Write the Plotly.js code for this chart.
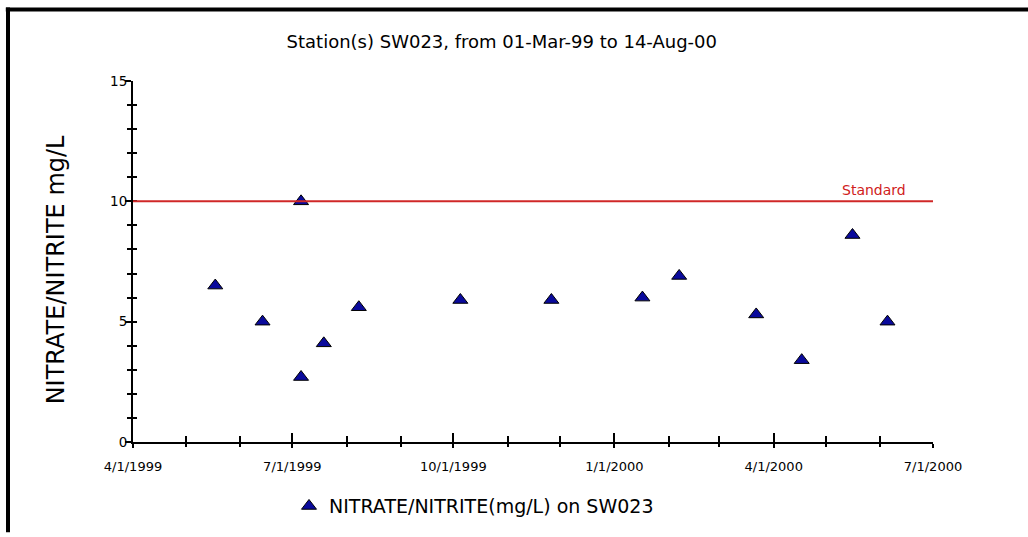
<!DOCTYPE html>
<html>
<head>
<meta charset="utf-8">
<script src="https://cdn.plot.ly/plotly-3.0.1.min.js"></script>
<style>
html,body{margin:0;padding:0;background:#fff;}
#chart{width:1028px;height:537px;}
</style>
</head>
<body>
<div id="chart"></div>
<script>
// ---- data ----
const sampleDates = ['1999-05-18','1999-06-14','1999-07-06','1999-07-06','1999-07-19','1999-08-08',
  '1999-10-05','1999-11-26','2000-01-17','2000-02-07','2000-03-22','2000-04-17','2000-05-16','2000-06-05'];
const nitrateValues = [6.5, 5.0, 10.0, 2.7, 4.1, 5.6, 5.9, 5.9, 6.0, 6.9, 5.3, 3.4, 8.6, 5.0];
const standardValue = 10;
const standardLabel = 'Standard';
const seriesName = 'NITRATE/NITRITE(mg/L) on SW023';
const chartTitle = 'Station(s) SW023, from 01-Mar-99 to 14-Aug-00';
const yTitle = 'NITRATE/NITRITE mg/L';
const xTickVals = ['1999-04-01','1999-07-01','1999-10-01','2000-01-01','2000-04-01','2000-07-01'];
const xTickText = ['4/1/1999','7/1/1999','10/1/1999','1/1/2000','4/1/2000','7/1/2000'];
const yTickVals = [0, 5, 10, 15];
const xRange = ['1999-04-01','2000-07-01'];
const yRange = [0, 15];

const FONT = 'DejaVu Sans, Verdana, sans-serif';

const traces = [
  {
    type: 'scatter', mode: 'markers', name: seriesName,
    x: sampleDates, y: nitrateValues,
    marker: {symbol: 'triangle-up', size: 13, color: '#0a0a9c', line: {color: '#000', width: 1}},
    hoverinfo: 'x+y'
  },
  { // carrier for the overlay axes (inner half of crossing ticks)
    type: 'scatter', mode: 'markers', x: [], y: [], xaxis: 'x2', yaxis: 'y2',
    showlegend: false, hoverinfo: 'skip'
  }
];

const xMinor = (side, len) => ({ticks: side, ticklen: len, tickwidth: 2, tickcolor: '#000',
  tickmode: 'linear', dtick: 'M1', tick0: '1999-04-01', showgrid: false});
const yMinor = (side, len) => ({ticks: side, ticklen: len, tickwidth: 2, tickcolor: '#000',
  tickmode: 'linear', dtick: 1, tick0: 0, showgrid: false});

const layout = {
  width: 1028, height: 537,
  margin: {l: 133, r: 95, t: 81, b: 88},
  paper_bgcolor: '#fff', plot_bgcolor: '#fff',
  font: {family: FONT, color: '#000', size: 12.5},
  title: {text: chartTitle, font: {family: FONT, size: 18, color: '#000'},
    x: 0.461, xref: 'paper', xanchor: 'center', y: 0.922, yref: 'container', yanchor: 'middle'},
  showlegend: true,
  legend: {x: 0.195, xanchor: 'left', y: -0.125, yanchor: 'top', orientation: 'h',
    font: {family: FONT, size: 19, color: '#000'}, bgcolor: 'rgba(0,0,0,0)'},
  xaxis: {
    type: 'date', range: xRange, fixedrange: true,
    tickmode: 'array', tickvals: xTickVals, ticktext: xTickText,
    ticks: 'outside', ticklen: 4, tickwidth: 2, tickcolor: '#000',
    ticklabelstandoff: 7,
    minor: xMinor('outside', 3),
    showline: true, linecolor: '#000', linewidth: 2, showgrid: false, zeroline: false,
    tickfont: {family: FONT, size: 13, color: '#000'}
  },
  yaxis: {
    range: yRange, fixedrange: true,
    tickmode: 'array', tickvals: yTickVals,
    ticks: 'outside', ticklen: 6, tickwidth: 2, tickcolor: '#000',
    ticklabelstandoff: -5,
    minor: yMinor('outside', 4),
    showline: true, linecolor: '#000', linewidth: 2, showgrid: false, zeroline: false,
    tickfont: {family: FONT, size: 13.5, color: '#000'}
  },
  xaxis2: {
    type: 'date', range: xRange, overlaying: 'x', anchor: 'y2', side: 'bottom', fixedrange: true,
    tickmode: 'array', tickvals: xTickVals, showticklabels: false,
    ticks: 'inside', ticklen: 9, tickwidth: 2, tickcolor: '#000',
    minor: xMinor('inside', 6),
    showline: false, showgrid: false, zeroline: false
  },
  yaxis2: {
    range: yRange, overlaying: 'y', anchor: 'x2', side: 'left', fixedrange: true,
    tickmode: 'array', tickvals: yTickVals, showticklabels: false,
    ticks: 'inside', ticklen: 4, tickwidth: 2, tickcolor: '#000',
    minor: yMinor('inside', 4),
    showline: false, showgrid: false, zeroline: false
  },
  shapes: [
    {type: 'line', xref: 'paper', yref: 'y', x0: 0, x1: 1, y0: standardValue, y1: standardValue,
      line: {color: '#d02828', width: 2}},
    {type: 'line', xref: 'paper', yref: 'paper', x0: -0.159, x1: 1.125, y0: 1.1984, y1: 1.1984,
      line: {color: '#000', width: 4}},
    {type: 'line', xref: 'paper', yref: 'paper', x0: -0.15625, x1: -0.15625, y0: 1.2038, y1: -0.25,
      line: {color: '#000', width: 4}}
  ],
  annotations: [
    {text: standardLabel, xref: 'paper', yref: 'y', x: 0.969, y: standardValue, xanchor: 'right', yanchor: 'middle',
      yshift: 11, showarrow: false, font: {family: FONT, size: 14, color: '#d02020'}},
    {text: yTitle, xref: 'paper', yref: 'paper', x: -0.096, y: 0.476, xanchor: 'center', yanchor: 'middle',
      textangle: -90, showarrow: false, font: {family: FONT, size: 24, color: '#000'}}
  ]
};

Plotly.newPlot('chart', traces, layout, {staticPlot: true, displayModeBar: false});
</script>
</body>
</html>
